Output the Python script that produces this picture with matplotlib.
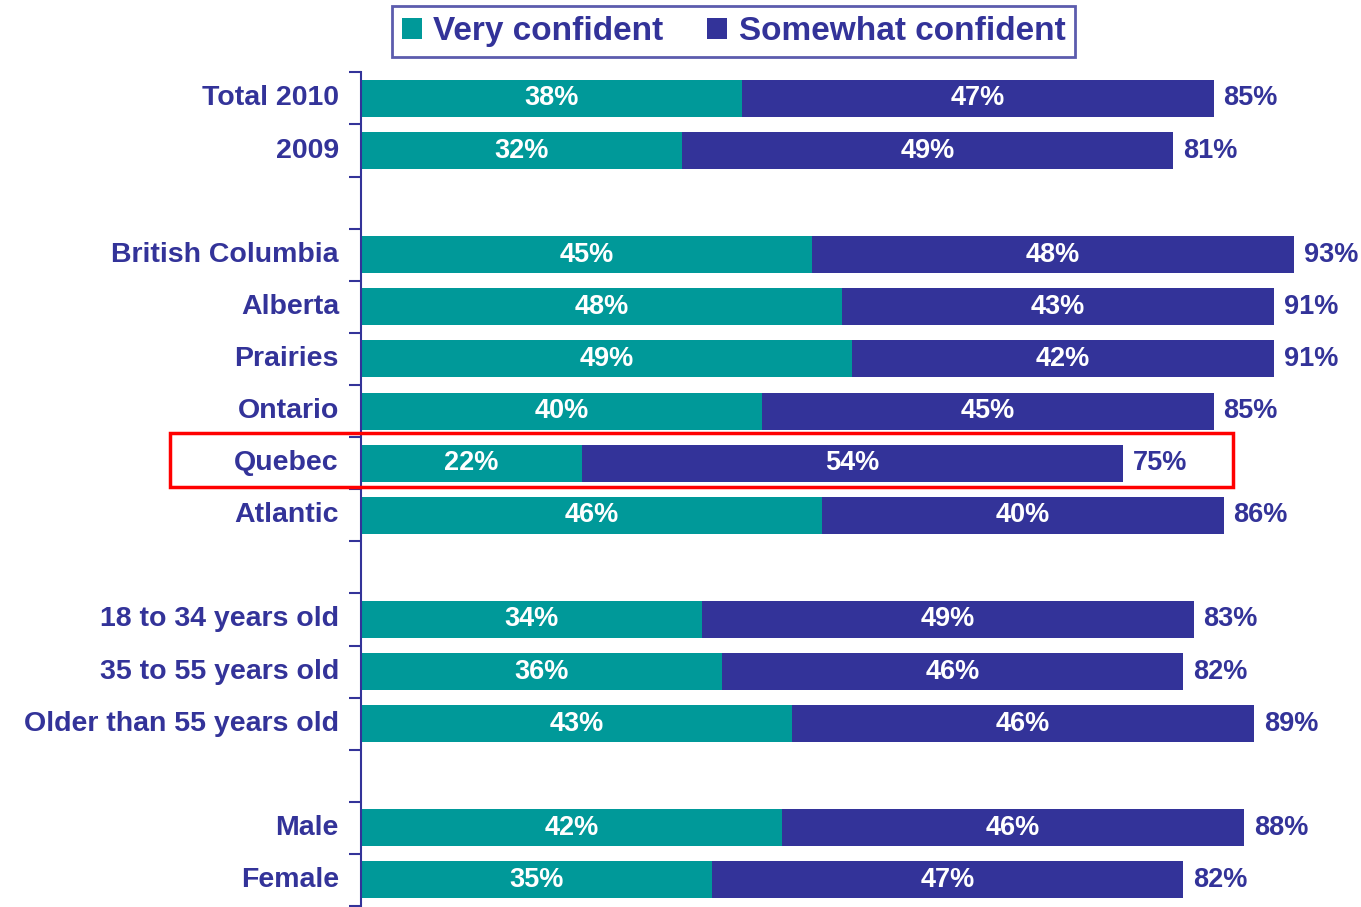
import matplotlib.pyplot as plt
from matplotlib.patches import Rectangle, Patch
from matplotlib.transforms import blended_transform_factory

plt.rcParams['font.family'] = ['Liberation Sans', 'DejaVu Sans']

# categories (blank strings are the spacer rows)
labels = ['Total 2010', '2009', '',
          'British Columbia', 'Alberta', 'Prairies', 'Ontario', 'Quebec', 'Atlantic', '',
          '18 to 34 years old', '35 to 55 years old', 'Older than 55 years old', '',
          'Male', 'Female']
very = [38, 32, None, 45, 48, 49, 40, 22, 46, None, 34, 36, 43, None, 42, 35]
somewhat = [47, 49, None, 48, 43, 42, 45, 54, 40, None, 49, 46, 46, None, 46, 47]
totals = [85, 81, None, 93, 91, 91, 85, 75, 86, None, 83, 82, 89, None, 88, 82]
highlight = 'Quebec'

TEAL = '#009999'
NAVY = '#333399'

fig = plt.figure(figsize=(13.61, 9.07), dpi=100)
ax = fig.add_axes([361 / 1361, 1 - 906 / 907, 998 / 1361, (906 - 72.4) / 907])

n = len(labels)
for i in range(n):
    if very[i] is None:
        continue
    ax.barh(i, very[i], height=0.71, color=TEAL, edgecolor='none')
    ax.barh(i, somewhat[i], left=very[i], height=0.71, color=NAVY, edgecolor='none')
    ax.text(very[i] / 2, i, f'{very[i]}%', color='white', fontsize=19.5,
            fontweight='bold', ha='center', va='center')
    ax.text(very[i] + somewhat[i] / 2, i, f'{somewhat[i]}%', color='white', fontsize=19.5,
            fontweight='bold', ha='center', va='center')
    ax.text(very[i] + somewhat[i] + 1.0, i, f'{totals[i]}%', color=NAVY, fontsize=19.5,
            fontweight='bold', ha='left', va='center')
    ax.text(-2.2, i, labels[i], color=NAVY, fontsize=20.5, fontweight='bold',
            ha='right', va='center')

ax.set_xlim(0, 99.5)
ax.set_ylim(n - 0.5, -0.5)
ax.set_xticks([])
ax.set_yticks([k - 0.5 for k in range(n + 1)])
ax.set_yticklabels([])
ax.tick_params(axis='y', direction='out', length=9, width=1.5, color=NAVY)
for s in ['top', 'right', 'bottom']:
    ax.spines[s].set_visible(False)
ax.spines['left'].set_color(NAVY)
ax.spines['left'].set_linewidth(1.5)

# red box around the highlighted row
qi = labels.index(highlight)
tr = blended_transform_factory(fig.transFigure, ax.transData)
fig.add_artist(Rectangle((170 / 1361, qi - 0.57), (1233 - 170) / 1361, 1.03,
                         transform=tr, fill=False, edgecolor='#ff0000', linewidth=2.5))

handles = [Patch(facecolor=TEAL, label='Very confident'),
           Patch(facecolor=NAVY, label='Somewhat confident')]
leg = fig.legend(handles=handles, loc='upper center', bbox_to_anchor=(0.539, 0.993),
                 ncol=2, frameon=True, fancybox=False,
                 prop={'weight': 'bold', 'size': 24}, labelcolor=NAVY,
                 handlelength=0.6, handleheight=0.6, handletextpad=0.35,
                 columnspacing=1.3, borderpad=0.3, borderaxespad=0)
leg.get_frame().set_edgecolor(NAVY)
leg.get_frame().set_linewidth(2)

fig.savefig('out.png', dpi=100)
